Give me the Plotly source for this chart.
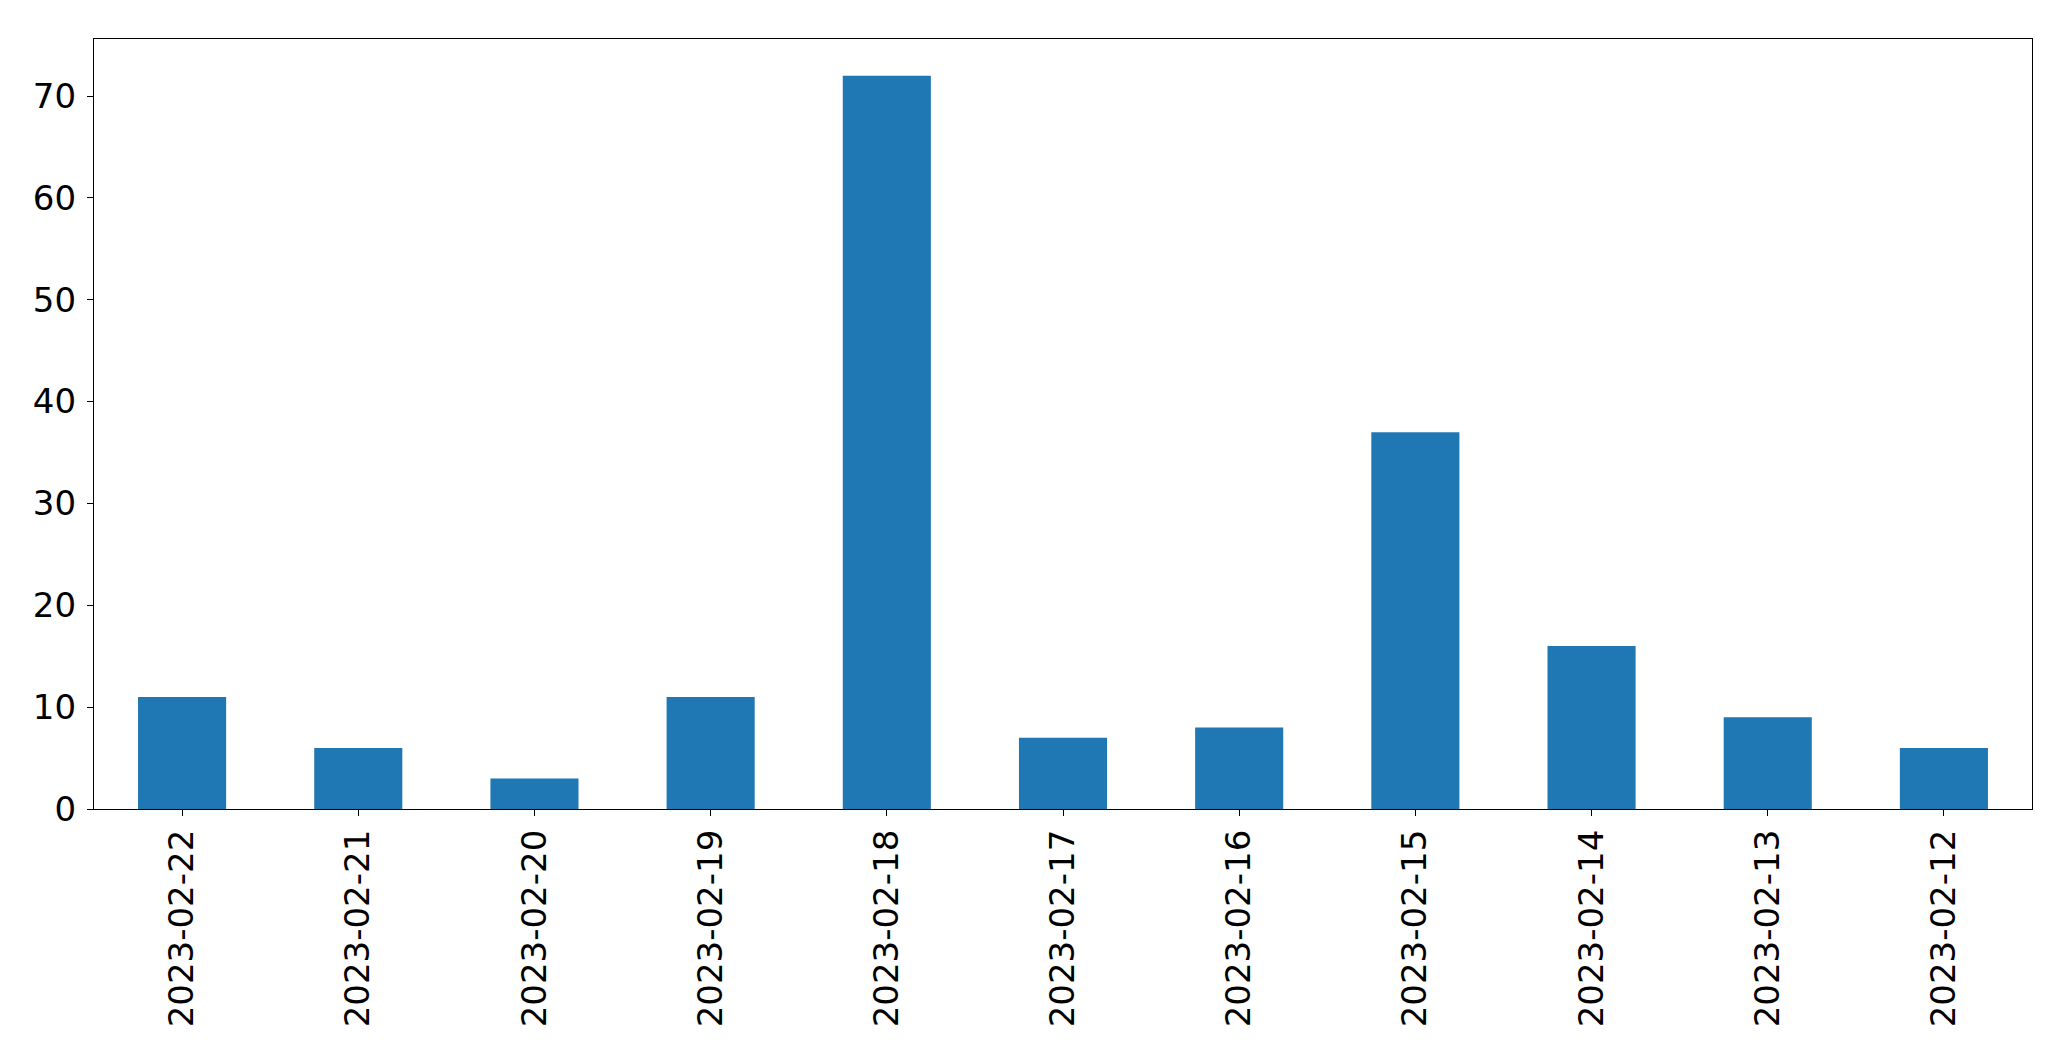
import plotly.graph_objects as go

dates = ["2023-02-22", "2023-02-21", "2023-02-20", "2023-02-19", "2023-02-18", "2023-02-17",
         "2023-02-16", "2023-02-15", "2023-02-14", "2023-02-13", "2023-02-12"]
counts = [11, 6, 3, 11, 72, 7, 8, 37, 16, 9, 6]
y_ticks = [0, 10, 20, 30, 40, 50, 60, 70]

fig = go.Figure(go.Bar(x=dates, y=counts, marker=dict(color="#1f77b4", line=dict(width=0)), width=0.5))

fig.update_layout(
    width=2071, height=1061,
    margin=dict(l=86, r=47, t=31, b=260, pad=0, autoexpand=False),
    paper_bgcolor="white", plot_bgcolor="white",
    font=dict(family="DejaVu Sans", size=34, color="black"),
    showlegend=False,
)
fig.update_xaxes(
    type="category", range=[-0.5, 10.5], tickangle=-90, automargin=False,
    showline=True, linecolor="black", linewidth=1.3, mirror=True,
    ticks="outside", ticklen=6, tickwidth=1.3, tickcolor="black",
    showgrid=False, zeroline=False, ticklabelstandoff=0,
)
fig.update_yaxes(
    range=[0, 75.6], tickvals=y_ticks, automargin=False,
    showline=True, linecolor="black", linewidth=1.3, mirror=True,
    ticks="outside", ticklen=6, tickwidth=1.3, tickcolor="black",
    showgrid=False, zeroline=False, ticklabelstandoff=4,
)
fig.write_html("out.html")
